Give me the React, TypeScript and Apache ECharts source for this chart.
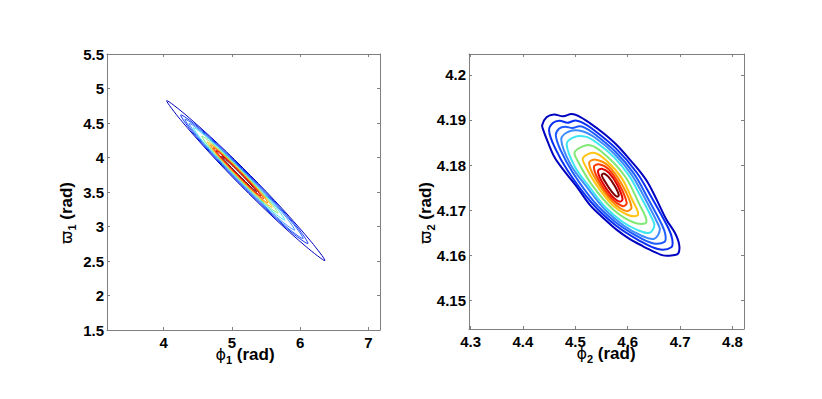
import React, { useEffect, useRef } from 'react';
import * as echarts from 'echarts';

// ---------- tick values ----------
const leftXTicks = [4, 5, 6, 7];
const leftYTicks = [1.5, 2, 2.5, 3, 3.5, 4, 4.5, 5, 5.5];
const rightXTicks = [4.3, 4.4, 4.5, 4.6, 4.7, 4.8];
const rightYTicks = [4.15, 4.16, 4.17, 4.18, 4.19, 4.2];

// ---------- left panel contours (phi1, varpi1) ----------
const leftLevel0 = [[4.045,4.823],[4.313,4.627],[4.804,4.192],[5.276,3.736],[5.731,3.265],[6.167,2.773],[6.363,2.506],[6.095,2.701],[5.603,3.137],[5.132,3.592],[4.676,4.064],[4.241,4.555]];
const leftLevel1 = [[4.251,4.617],[4.475,4.469],[4.869,4.117],[5.247,3.749],[5.615,3.371],[5.967,2.977],[6.115,2.753],[5.891,2.901],[5.497,3.253],[5.119,3.621],[4.751,3.999],[4.399,4.393]];
const leftLevel2 = [[4.313,4.555],[4.520,4.416],[4.884,4.088],[5.235,3.747],[5.576,3.396],[5.904,3.032],[6.043,2.825],[5.836,2.964],[5.472,3.292],[5.121,3.633],[4.780,3.984],[4.452,4.348]];
const leftLevel3 = [[4.375,4.493],[4.559,4.369],[4.884,4.076],[5.196,3.770],[5.502,3.458],[5.795,3.133],[5.920,2.948],[5.735,3.073],[5.410,3.366],[5.098,3.672],[4.793,3.985],[4.499,4.309]];
const leftLevel4 = [[4.436,4.432],[4.596,4.324],[4.878,4.070],[5.149,3.805],[5.414,3.534],[5.668,3.253],[5.775,3.093],[5.616,3.201],[5.334,3.454],[5.063,3.719],[4.798,3.990],[4.544,4.272]];
const leftLevel5 = [[4.560,4.308],[4.693,4.219],[4.928,4.008],[5.153,3.789],[5.373,3.563],[5.583,3.329],[5.672,3.196],[5.539,3.285],[5.305,3.495],[5.079,3.715],[4.860,3.940],[4.649,4.175]];
const leftLevel6 = [[4.642,4.226],[4.756,4.150],[4.956,3.970],[5.148,3.784],[5.335,3.591],[5.514,3.392],[5.590,3.278],[5.476,3.354],[5.277,3.533],[5.084,3.720],[4.898,3.912],[4.718,4.112]];
const leftLevel7 = [[4.684,4.184],[4.784,4.116],[4.962,3.956],[5.133,3.789],[5.300,3.618],[5.460,3.440],[5.528,3.340],[5.428,3.408],[5.250,3.568],[5.079,3.735],[4.912,3.906],[4.752,4.084]];
const leftLevel8 = [[4.725,4.143],[4.812,4.082],[4.967,3.941],[5.118,3.794],[5.264,3.644],[5.405,3.489],[5.466,3.402],[5.379,3.463],[5.224,3.604],[5.074,3.750],[4.927,3.901],[4.786,4.056]];
const leftLevel9 = [[4.766,4.102],[4.842,4.046],[4.979,3.919],[5.113,3.789],[5.242,3.656],[5.369,3.519],[5.425,3.443],[5.349,3.499],[5.212,3.626],[5.080,3.756],[4.949,3.889],[4.822,4.026]];
const leftLevel10 = [[4.848,4.020],[4.906,3.974],[5.013,3.875],[5.116,3.772],[5.218,3.668],[5.318,3.562],[5.363,3.505],[5.306,3.550],[5.200,3.650],[5.096,3.752],[4.993,3.855],[4.894,3.962]];

// ---------- right panel contours (phi2, varpi2) ----------
const rightLevel0 = [[4.4368,4.1889],[4.4450,4.1906],[4.4590,4.1912],[4.4768,4.1908],[4.4927,4.1913],[4.5055,4.1909],[4.5277,4.1893],[4.5532,4.1871],[4.5786,4.1845],[4.6041,4.1812],[4.6232,4.1786],[4.6391,4.1760],[4.6550,4.1724],[4.6740,4.1679],[4.6900,4.1650],[4.6982,4.1624],[4.6963,4.1604],[4.6836,4.1600],[4.6677,4.1600],[4.6486,4.1609],[4.6263,4.1622],[4.6041,4.1636],[4.5786,4.1657],[4.5532,4.1683],[4.5277,4.1712],[4.5023,4.1753],[4.4768,4.1790],[4.4609,4.1816],[4.4482,4.1849],[4.4387,4.1878]];
const rightLevel1 = [[4.4498,4.1877],[4.4571,4.1893],[4.4697,4.1898],[4.4858,4.1894],[4.5001,4.1899],[4.5116,4.1895],[4.5316,4.1881],[4.5774,4.1837],[4.6175,4.1783],[4.6462,4.1727],[4.6777,4.1660],[4.6850,4.1636],[4.6833,4.1618],[4.6576,4.1614],[4.6203,4.1634],[4.5774,4.1666],[4.5316,4.1716],[4.4858,4.1787],[4.4600,4.1841]];
const rightLevel2 = [[4.4627,4.1866],[4.4693,4.1881],[4.4805,4.1885],[4.4947,4.1882],[4.5075,4.1886],[4.5177,4.1883],[4.5355,4.1870],[4.5762,4.1830],[4.6119,4.1781],[4.6373,4.1729],[4.6653,4.1668],[4.6719,4.1646],[4.6703,4.1630],[4.6475,4.1627],[4.6143,4.1645],[4.5762,4.1674],[4.5355,4.1719],[4.4947,4.1784],[4.4719,4.1833]];
const rightLevel3 = [[4.4731,4.1857],[4.4891,4.1875],[4.5134,4.1875],[4.5386,4.1860],[4.5752,4.1824],[4.6073,4.1779],[4.6302,4.1732],[4.6554,4.1675],[4.6613,4.1656],[4.6508,4.1637],[4.6256,4.1644],[4.5936,4.1665],[4.5569,4.1701],[4.5203,4.1754],[4.4905,4.1802]];
const rightLevel4 = [[4.4835,4.1846],[4.4977,4.1862],[4.5193,4.1863],[4.5417,4.1849],[4.5742,4.1817],[4.6028,4.1776],[4.6231,4.1734],[4.6455,4.1684],[4.6508,4.1666],[4.6414,4.1650],[4.6190,4.1656],[4.5906,4.1674],[4.5580,4.1706],[4.5254,4.1754],[4.4989,4.1797]];
const rightLevel5 = [[4.4991,4.1830],[4.5281,4.1844],[4.5596,4.1820],[4.5960,4.1773],[4.6224,4.1713],[4.6350,4.1682],[4.6340,4.1671],[4.6092,4.1674],[4.5728,4.1701],[4.5331,4.1754],[4.5050,4.1808]];
const rightLevel6 = [[4.5146,4.1816],[4.5370,4.1827],[4.5612,4.1808],[4.5892,4.1770],[4.6095,4.1721],[4.6192,4.1697],[4.6184,4.1688],[4.5993,4.1690],[4.5713,4.1711],[4.5408,4.1755],[4.5192,4.1798]];
const rightLevel7 = [[4.5263,4.1805],[4.5387,4.1812],[4.5624,4.1799],[4.5890,4.1757],[4.6073,4.1707],[4.5979,4.1698],[4.5703,4.1719],[4.5387,4.1769]];
const rightLevel8 = [[4.5354,4.1796],[4.5450,4.1802],[4.5633,4.1791],[4.5839,4.1757],[4.5981,4.1716],[4.5908,4.1709],[4.5694,4.1726],[4.5450,4.1766]];
const rightLevel9 = [[4.5432,4.1787],[4.5504,4.1792],[4.5641,4.1783],[4.5796,4.1757],[4.5902,4.1725],[4.5847,4.1719],[4.5687,4.1733],[4.5504,4.1764]];
const rightLevel10 = [[4.5503,4.1778],[4.5553,4.1781],[4.5633,4.1774],[4.5741,4.1756],[4.5830,4.1734],[4.5792,4.1730],[4.5695,4.1741],[4.5568,4.1763]];

const leftContours = [leftLevel0, leftLevel1, leftLevel2, leftLevel3, leftLevel4, leftLevel5, leftLevel6, leftLevel7, leftLevel8, leftLevel9, leftLevel10];
const rightContours = [rightLevel0, rightLevel1, rightLevel2, rightLevel3, rightLevel4, rightLevel5, rightLevel6, rightLevel7, rightLevel8, rightLevel9, rightLevel10];

const levelColors = ['#0000c0', '#0b2ff2', '#1f5cff', '#3e8cff', '#3ee6f0', '#80e874', '#ffc414', '#ff8c00', '#ff3a00', '#e00000', '#7c0000'];

const GREY = '#7f7f7f';
const FONT = 'Liberation Sans, Arial, sans-serif';

function xAxes(gridIndex: number, min: number, max: number, ticks: number[]) {
  const base: any = {
    type: 'value', gridIndex, min, max,
    splitLine: { show: false },
    axisLine: { show: true, onZero: false, lineStyle: { color: GREY, width: 1 } },
    axisTick: { show: true, inside: true, length: 3, customValues: ticks, lineStyle: { color: GREY } },
  };
  return [
    { ...base, position: 'bottom', axisLabel: { customValues: ticks, margin: 5, color: '#000', fontSize: 15, fontWeight: 'bold', fontFamily: FONT } },
    { ...base, position: 'top', axisLabel: { show: false } },
  ];
}
function yAxes(gridIndex: number, min: number, max: number, ticks: number[]) {
  const base: any = {
    type: 'value', gridIndex, min, max,
    splitLine: { show: false },
    axisLine: { show: true, onZero: false, lineStyle: { color: GREY, width: 1 } },
    axisTick: { show: true, inside: true, length: 3, customValues: ticks, lineStyle: { color: GREY } },
  };
  return [
    { ...base, position: 'left', axisLabel: { customValues: ticks, margin: 3, color: '#000', fontSize: 15, fontWeight: 'bold', fontFamily: FONT } },
    { ...base, position: 'right', axisLabel: { show: false } },
  ];
}

function contourSeries(contours: number[][][], axisIndex: number, lineWidth: number, smooth: number) {
  return {
    type: 'custom',
    coordinateSystem: 'cartesian2d',
    xAxisIndex: axisIndex,
    yAxisIndex: axisIndex,
    silent: true,
    data: contours.map((_, i) => [i]),
    renderItem: (_params: any, api: any) => {
      const idx = api.value(0) as number;
      const pts = contours[idx].map((p) => api.coord(p));
      return {
        type: 'polygon',
        shape: { points: pts, smooth },
        style: { fill: 'none', stroke: levelColors[idx], lineWidth },
      };
    },
  };
}

const titleRich: any = {
  sym: { fontFamily: 'DejaVu Sans', fontSize: 16, fontWeight: 'normal', fill: '#000' },
  sub: { fontFamily: FONT, fontSize: 11, fontWeight: 'bold', fill: '#000', padding: [12, 0, 0, 0] },
  b: { fontFamily: FONT, fontSize: 17, fontWeight: 'bold', fill: '#000' },
};

function title(text: string, x: number, y: number, rotation: number) {
  return {
    type: 'text', x, y, rotation,
    style: { text, rich: titleRich, align: 'center', verticalAlign: 'middle', fill: '#000' },
  };
}

export default function App() {
  const ref = useRef<HTMLDivElement>(null);
  useEffect(() => {
    if (!ref.current) return;
    const chart = echarts.init(ref.current, undefined, { renderer: 'svg' });
    chart.setOption({
      animation: false,
      backgroundColor: '#ffffff',
      grid: [
        { left: 107, top: 54, width: 273, height: 276, containLabel: false },
        { left: 469, top: 54, width: 275, height: 275, containLabel: false },
      ],
      xAxis: [...xAxes(0, 3.17, 7.17, leftXTicks), ...xAxes(1, 4.297, 4.822, rightXTicks)],
      yAxis: [...yAxes(0, 1.5, 5.5, leftYTicks), ...yAxes(1, 4.1437, 4.2046, rightYTicks)],
      series: [
        contourSeries(leftContours, 0, 1, 0.3),
        contourSeries(rightContours, 2, 2, 0.35),
      ],
      graphic: [
        title('{sym|ϕ}{sub|1}{b| (rad)}', 245, 354, 0),
        title('{sym|ϕ}{sub|2}{b| (rad)}', 606, 353, 0),
        title('{sym|ϖ}{sub|1}{b| (rad)}', 66, 213, Math.PI / 2),
        title('{sym|ϖ}{sub|2}{b| (rad)}', 425, 213, Math.PI / 2),
      ],
    });
    return () => chart.dispose();
  }, []);
  return <div ref={ref} style={{ position: 'absolute', left: 0, top: 0, width: 822, height: 399, background: '#fff' }} />;
}
